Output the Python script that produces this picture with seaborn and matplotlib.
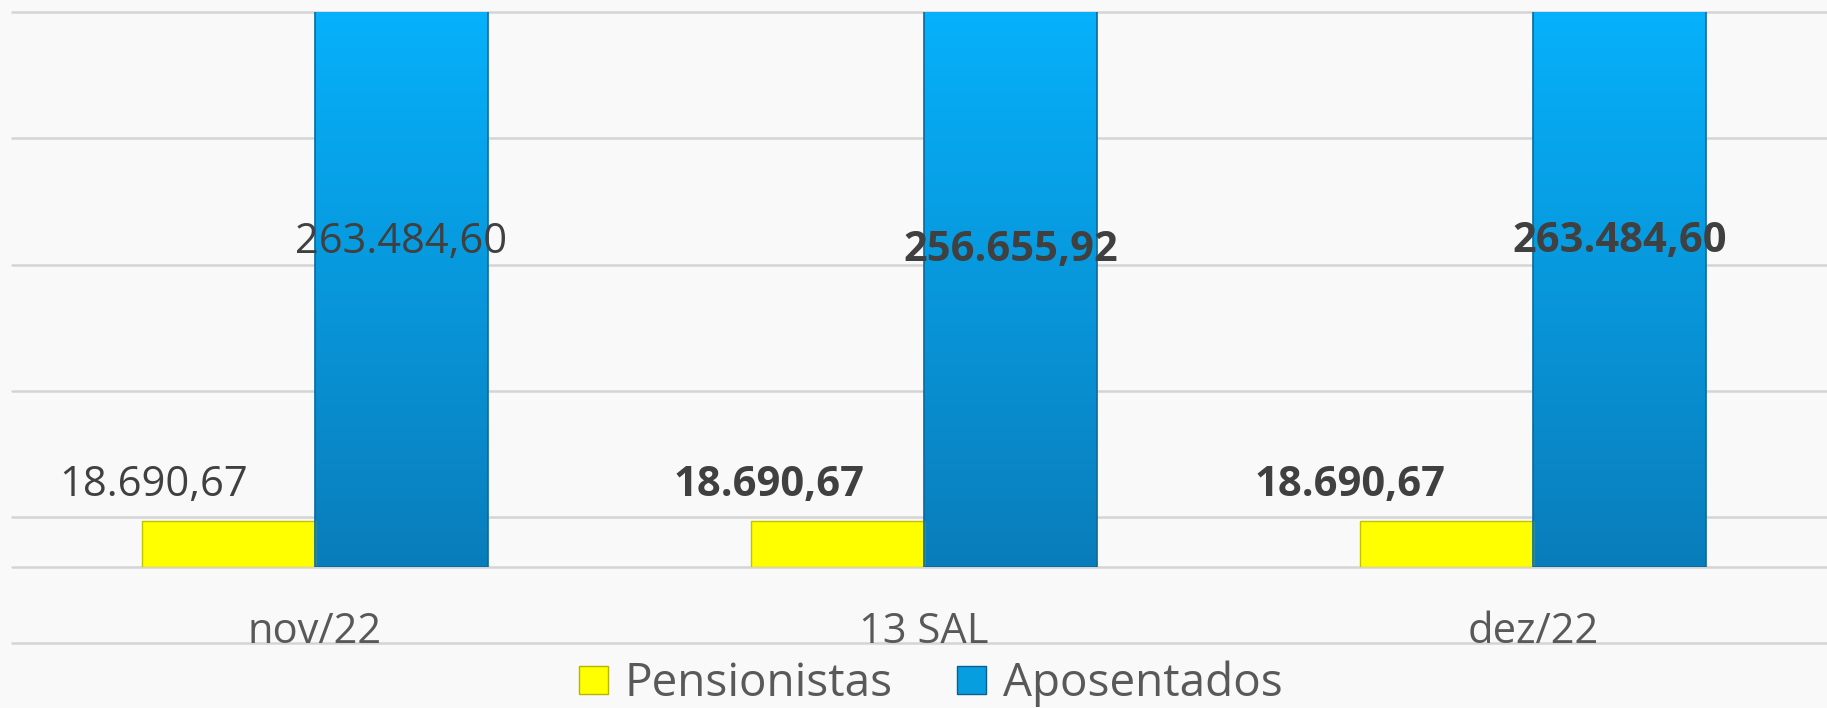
import matplotlib
matplotlib.use("Agg")
import matplotlib.pyplot as plt
import matplotlib.transforms as mtrans
from matplotlib.colors import LinearSegmentedColormap
from matplotlib.lines import Line2D
from matplotlib.patches import Patch
import numpy as np
import pandas as pd
import seaborn as sns

W, H = 1827, 708

# ── Dados ─────────────────────────────────────────────────────────────────────
meses = ["nov/22", "13 SAL", "dez/22"]
series = ["Pensionistas", "Aposentados"]
pensionistas = [18690.67, 18690.67, 18690.67]
aposentados = [263484.60, 256655.92, 263484.60]
negrito = [False, True, True]

# ── Layout / estilo ───────────────────────────────────────────────────────────
AMARELO = "#ffff00"
AZUL = "#079ee0"
TXT = "#404040"
TXT_EIXO = "#595959"
LINHA = "#d4d4d4"
FUNDO = "#f9f9f9"
YMAX = 227000
desloc_pens = [-0.123, -0.112, -0.159]   # deslocamento x dos rótulos amarelos
base_pens = [496, 496, 496]              # linha de base (px a partir do topo)
base_apos = [253, 261, 252]


def fmt_br(v):
    return f"{v:,.2f}".replace(",", "#").replace(".", ",").replace("#", ".")


def fy(px):
    return 1 - px / H


sns.set_theme(style="white")
plt.rcParams["font.family"] = ["Open Sans", "DejaVu Sans"]

df = pd.DataFrame({
    "mes": meses * 2,
    "serie": [series[0]] * len(meses) + [series[1]] * len(meses),
    "valor": pensionistas + aposentados,
})

fig = plt.figure(figsize=(W / 100, H / 100), dpi=100, facecolor=FUNDO)
ax = fig.add_axes([10.5 / W, fy(567), 1.0, (567 - 12) / H])
ax.patch.set_alpha(0)

# linhas de caderno do fundo do slide
for y in [12, 138, 265, 391, 517, 567, 643]:
    fig.add_artist(Line2D([12 / W, 1], [fy(y)] * 2, color=LINHA, lw=1.8, zorder=-1))

sns.barplot(data=df, x="mes", y="valor", hue="serie", palette=[AMARELO, AZUL],
            width=0.568, saturation=1, legend=False, ax=ax)

# amarelo: borda mais escura
for bar in ax.containers[0]:
    bar.set_edgecolor("#c2c200")
    bar.set_linewidth(1)

# azul: degradê vertical
cmap_azul = LinearSegmentedColormap.from_list("azul", ["#0a7dbb", "#06b1fb"])
grad = np.linspace(0, 1, 256).reshape(-1, 1)
for bar in ax.containers[1]:
    x0, w = bar.get_x(), bar.get_width()
    im = ax.imshow(grad, cmap=cmap_azul, origin="lower", aspect="auto",
                   extent=[x0, x0 + w, 0, YMAX], zorder=bar.get_zorder() - 0.05)
    im.set_clip_path(bar)
    bar.set_facecolor("none")
    bar.set_edgecolor("#0a6a9c")
    bar.set_linewidth(1.2)

ax.set_xlim(-0.5, 2.5)
ax.set_ylim(0, YMAX)
ax.set_xticks([])
ax.set_yticks([])
ax.set(xlabel="", ylabel="")
sns.despine(ax=ax, left=True, bottom=True)

tr = mtrans.blended_transform_factory(ax.transData, fig.transFigure)
for i, (bp, ba) in enumerate(zip(ax.containers[0], ax.containers[1])):
    peso = "bold" if negrito[i] else "normal"
    cx = bp.get_x() + bp.get_width() / 2
    ax.text(cx + desloc_pens[i], fy(base_pens[i]), fmt_br(pensionistas[i]), transform=tr,
            ha="center", va="baseline", fontsize=30, color=TXT, fontweight=peso)
    cx = ba.get_x() + ba.get_width() / 2
    ax.text(cx, fy(base_apos[i]), fmt_br(aposentados[i]), transform=tr,
            ha="center", va="baseline", fontsize=30, color=TXT, fontweight=peso)
    ax.text(ba.get_x(), fy(643), meses[i], transform=tr,
            ha="center", va="baseline", fontsize=30, color=TXT_EIXO)

handles = [Patch(facecolor=AMARELO, edgecolor="#b5b500"),
           Patch(facecolor=AZUL, edgecolor="#0a5f8f")]
fig.legend(handles=handles, labels=series, loc="center", bbox_to_anchor=(931 / W, fy(684)),
           ncol=2, frameon=False, fontsize=33, handlelength=0.63, handleheight=0.59,
           handletextpad=0.37, columnspacing=1.4, labelcolor=TXT_EIXO)

fig.savefig("out.png", dpi=100, facecolor=FUNDO)
